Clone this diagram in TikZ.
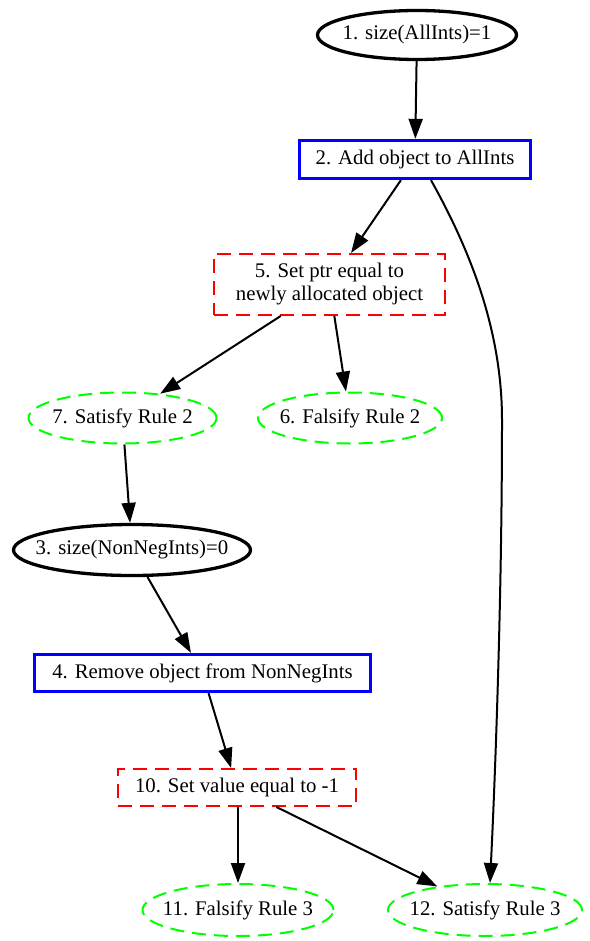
\documentclass[tikz,border=0pt]{standalone}
\usepackage{fontspec}
\setmainfont{Liberation Serif}
\usetikzlibrary{shapes.geometric,arrows.meta,calc}
\definecolor{gvred}{RGB}{255,0,0}
\definecolor{gvgreen}{RGB}{0,255,0}
\definecolor{gvblue}{RGB}{0,0,255}
\tikzset{
  lbl/.style={font=\fontsize{20.8}{23}\selectfont, align=center, inner sep=0pt},
  % ellipse outlines carry no text; their labels sit on top as separate nodes
  oval/.style={ellipse, inner sep=0pt},
  cond/.style={oval, draw=black, line width=3.3pt},
  act/.style={lbl, rectangle, draw=gvblue, line width=3.3pt},
  assign/.style={lbl, rectangle, draw=gvred, line width=2pt, dash pattern=on 14pt off 8pt},
  rule/.style={oval, draw=gvgreen, line width=2pt, dash pattern=on 14pt off 8pt},
  edge/.style={line width=2pt, -{Triangle[length=20pt,width=14pt]}},
}
\begin{document}
\begin{tikzpicture}[x=1pt,y=-1pt]
\useasboundingbox (0,0) rectangle (589,941);
% nodes
\node[cond, minimum width=199, minimum height=49] (n1) at (417,35) {};
\node[lbl] (t1) at (n1) {1. size(AllInts)=1};
\node[act, minimum width=231, minimum height=38] (n2) at (415,159.5) {2. Add object to AllInts};
\node[assign, minimum width=231, minimum height=61] (n5) at (329.5,284.5) {5. Set ptr equal to\\newly allocated object};
\node[rule, minimum width=188, minimum height=51] (n7) at (122.5,418) {};
\node[lbl] (t7) at (n7) {7. Satisfy Rule 2};
\node[rule, minimum width=184, minimum height=51] (n6) at (350,418) {};
\node[lbl] (t6) at (n6) {6. Falsify Rule 2};
\node[cond, minimum width=237, minimum height=51] (n3) at (132,550) {};
\node[lbl] (t3) at (n3) {3. size(NonNegInts)=0};
\node[act, minimum width=336, minimum height=37] (n4) at (202.5,673) {4. Remove object from NonNegInts};
\node[assign, minimum width=238, minimum height=37] (n10) at (237,787.5) {10. Set value equal to -1};
\node[rule, minimum width=191, minimum height=52] (n11) at (238,910) {};
\node[lbl] (t11) at (n11) {11. Falsify Rule 3};
\node[rule, minimum width=194, minimum height=52] (n12) at (485,910) {};
\node[lbl] (t12) at (n12) {12. Satisfy Rule 3};
% connectors
\draw[edge] (n1) -- (n2);
\draw[edge] (n2) -- (n5);
\draw[edge] ($(n2.south)+(16,0)$) .. controls (470,250) and (502,330) .. (502,420)
  .. controls (502,600) and (495,780) .. ($(n12.north)+(5,0)$);
\draw[edge] (n5) -- (n7);
\draw[edge] (n5) -- (n6);
\draw[edge] (n7) -- (n3);
\draw[edge] (n3) -- (n4);
\draw[edge] (n4) -- (n10);
\draw[edge] (n10.south -| n11) -- (n11);
\draw[edge] (n10) -- (n12);
\end{tikzpicture}
\end{document}
